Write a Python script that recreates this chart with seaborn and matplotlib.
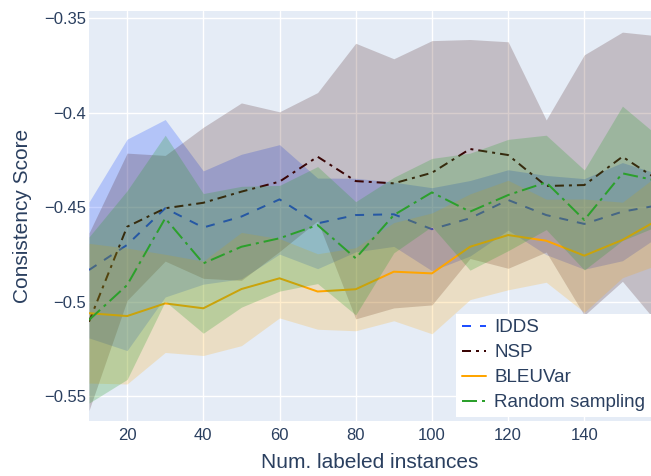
import numpy as np
import pandas as pd
import matplotlib
matplotlib.use('Agg')
import matplotlib.pyplot as plt
import seaborn as sns

# data (mean, and half band width = std)
n_labeled = [10, 20, 30, 40, 50, 60, 70, 80, 90, 100, 110, 120, 130, 140, 150, 160]

idds_mean = [-0.4833, -0.4700, -0.4506, -0.4608, -0.4550, -0.4459, -0.4586, -0.4542,
             -0.4538, -0.4617, -0.4559, -0.4462, -0.4542, -0.4589, -0.4524, -0.4488]
idds_std = [0.036, 0.056, 0.047, 0.030, 0.033, 0.029, 0.024, 0.0195,
            0.017, 0.022, 0.020, 0.016, 0.021, 0.024, 0.026, 0.016]

nsp_mean = [-0.5107, -0.4604, -0.4506, -0.4477, -0.4418, -0.4365, -0.4233, -0.4362,
            -0.4374, -0.4318, -0.4192, -0.4224, -0.4388, -0.4383, -0.4233, -0.4364]
nsp_std = [0.047, 0.039, 0.028, 0.040, 0.047, 0.037, 0.034, 0.073,
           0.066, 0.070, 0.058, 0.060, 0.035, 0.069, 0.066, 0.077]

bleu_mean = [-0.5062, -0.5077, -0.5010, -0.5036, -0.4934, -0.4877, -0.4947, -0.4935,
             -0.4842, -0.4851, -0.4710, -0.4648, -0.4678, -0.4757, -0.4674, -0.4560]
bleu_std = [0.037, 0.036, 0.026, 0.025, 0.030, 0.021, 0.020, 0.022,
            0.026, 0.032, 0.028, 0.029, 0.022, 0.030, 0.020, 0.024]

rand_mean = [-0.5098, -0.4913, -0.4559, -0.4798, -0.4710, -0.4665, -0.4595, -0.4771,
             -0.4542, -0.4422, -0.4524, -0.4436, -0.4369, -0.4568, -0.4321, -0.4364]
rand_std = [0.044, 0.050, 0.044, 0.037, 0.032, 0.028, 0.031, 0.030,
            0.020, 0.018, 0.031, 0.0295, 0.025, 0.0265, 0.0356, 0.023]

methods = ['IDDS', 'NSP', 'BLEUVar', 'Random sampling']
colors = ['#1f4fff', '#3a0505', '#ffa500', '#2ca02c']
band_alpha = [0.25, 0.2, 0.2, 0.25]
# dash patterns in units of line width (plotly dash / dashdot / solid / longdashdot)
styles = [(0, (4.5, 4.5)), (0, (4.5, 2.5, 1.5, 2.5)), '-', (0, (7.5, 2.5, 1.5, 2.5))]
means = [idds_mean, nsp_mean, bleu_mean, rand_mean]
stds = [idds_std, nsp_std, bleu_std, rand_std]

sns.set_style('darkgrid', {'axes.facecolor': '#E5ECF6', 'grid.color': 'white'})
plt.rcParams['font.family'] = ['Liberation Sans', 'DejaVu Sans']
plt.rcParams['axes.unicode_minus'] = True

fig = plt.figure(figsize=(6.51, 4.76), dpi=100)
ax = fig.add_axes([89 / 651, 1 - 421 / 476, 562 / 651, 410 / 476])

z = 2
for name, c, a, ls, m, s in zip(methods, colors, band_alpha, styles, means, stds):
    df = pd.DataFrame({'x': n_labeled, 'mean': m, 'std': s})
    sns.lineplot(data=df, x='x', y='mean', ax=ax, color=c, linestyle=ls,
                 linewidth=2 * 72 / 100, label=name, zorder=z)
    ax.fill_between(df['x'], df['mean'] - df['std'], df['mean'] + df['std'],
                    color=c, alpha=a, linewidth=0, zorder=z + 1)
    z += 2

ax.set_xlim(10, 157.5)
ax.set_ylim(-0.5633, -0.3461)
ax.set_xticks([20, 40, 60, 80, 100, 120, 140])
yt = [-0.35, -0.4, -0.45, -0.5, -0.55]
ax.set_yticks(yt)
ax.set_yticklabels(['\u22120.35', '\u22120.4', '\u22120.45', '\u22120.5', '\u22120.55'])
ax.grid(True, color='white', linewidth=1)
ax.set_axisbelow(True)
for sp in ax.spines.values():
    sp.set_visible(False)

txt = '#2a3f5f'
ax.tick_params(axis='both', length=0, labelsize=12, labelcolor=txt)
ax.tick_params(axis='y', pad=2)
ax.tick_params(axis='x', pad=5)
ax.set_xlabel('Num. labeled instances', fontsize=15, color=txt, labelpad=7)
ax.set_ylabel('Consistency Score', fontsize=15, color=txt, labelpad=9)

leg = ax.legend(loc='lower right', bbox_to_anchor=(1.0, 0.01), fontsize=13.5,
                frameon=True, fancybox=False, facecolor='white', edgecolor='none',
                framealpha=1, handlelength=1.3, handletextpad=0.45,
                labelspacing=0.42, borderpad=0.3, borderaxespad=0)
leg.set_zorder(20)
for t in leg.get_texts():
    t.set_color(txt)

fig.savefig('out.png', dpi=100)
